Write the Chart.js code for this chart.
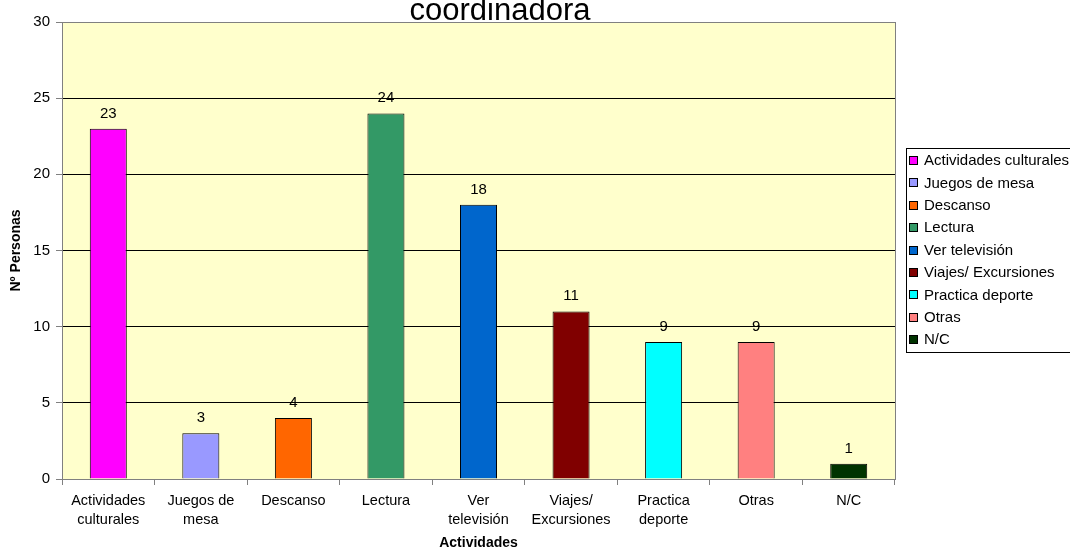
<!DOCTYPE html>
<html lang="es">
<head>
  <meta charset="UTF-8">
  <title>Actividades</title>
  <script src="https://cdn.jsdelivr.net/npm/chart.js"></script>
  <style>
    body { margin: 0; background: #fff; }
    #wrap { width: 1070px; height: 552px; position: relative; }
  </style>
</head>
<body>
  <div id="wrap"><canvas id="grafico" width="1070" height="552"></canvas></div>

  <script>
    // datos
    const categorias = ['Actividades culturales', 'Juegos de mesa', 'Descanso', 'Lectura', 'Ver televisión',
      'Viajes/ Excursiones', 'Practica deporte', 'Otras', 'N/C'];
    const etiquetasEje = [['Actividades', 'culturales'], ['Juegos de', 'mesa'], 'Descanso', 'Lectura',
      ['Ver', 'televisión'], ['Viajes/', 'Excursiones'], ['Practica', 'deporte'], 'Otras', 'N/C'];
    const personas = [23, 3, 4, 24, 18, 11, 9, 9, 1];
    const colores = ['#FF00FF', '#9999FF', '#FF6600', '#339966', '#0066CC', '#800000', '#00FFFF', '#FF8080', '#003300'];

    const FUENTE = 'Liberation Sans, Arial, sans-serif';

    // fondo amarillo y borde gris del área de trazado
    const fondoArea = {
      id: 'fondoArea',
      beforeDraw(chart) {
        const { ctx, chartArea: a } = chart;
        ctx.save();
        ctx.fillStyle = '#FFFFCC';
        ctx.fillRect(a.left, a.top, a.right - a.left, a.bottom - a.top);
        ctx.restore();
      },
      afterDatasetsDraw(chart) {
        const { ctx, chartArea: a } = chart;
        ctx.save();
        ctx.strokeStyle = '#808080';
        ctx.lineWidth = 1;
        ctx.beginPath();
        ctx.moveTo(a.right + 0.5, a.top);
        ctx.lineTo(a.right + 0.5, a.bottom);
        ctx.stroke();
        ctx.restore();
      }
    };

    // valores encima de cada barra
    const valores = {
      id: 'valores',
      afterDatasetsDraw(chart) {
        const { ctx } = chart;
        const meta = chart.getDatasetMeta(0);
        ctx.save();
        ctx.font = '15px ' + FUENTE;
        ctx.fillStyle = '#000';
        ctx.textAlign = 'center';
        ctx.textBaseline = 'alphabetic';
        meta.data.forEach((bar, i) => {
          ctx.fillText(String(personas[i]), bar.x, bar.y - 11);
        });
        ctx.restore();
      }
    };

    // título (cortado arriba) y leyenda con recuadro
    const extras = {
      id: 'extras',
      afterDraw(chart) {
        const { ctx } = chart;
        ctx.save();
        ctx.fillStyle = '#000';
        ctx.font = '31px ' + FUENTE;
        ctx.textAlign = 'center';
        ctx.textBaseline = 'alphabetic';
        ctx.fillText('coordinadora', 500, 20);

        // leyenda
        ctx.fillStyle = '#fff';
        ctx.fillRect(906.5, 148.5, 170, 204);
        ctx.strokeStyle = '#000';
        ctx.lineWidth = 1;
        ctx.strokeRect(906.5, 148.5, 170, 204);
        ctx.font = '15px ' + FUENTE;
        ctx.textAlign = 'left';
        ctx.textBaseline = 'middle';
        categorias.forEach((c, i) => {
          const y = 161 + i * 22.4;
          ctx.fillStyle = colores[i];
          ctx.fillRect(910, Math.round(y) - 4, 7, 7);
          ctx.strokeStyle = '#000';
          ctx.strokeRect(909.5, Math.round(y) - 4.5, 8, 8);
          ctx.fillStyle = '#000';
          ctx.fillText(c, 924, y);
        });
        ctx.restore();
      }
    };

    new Chart(document.getElementById('grafico'), {
      type: 'bar',
      data: {
        labels: etiquetasEje,
        datasets: [{
          data: personas,
          backgroundColor: colores,
          borderColor: '#000',
          borderWidth: 1,
          barPercentage: 0.8,
          categoryPercentage: 0.5
        }]
      },
      options: {
        responsive: false,
        animation: false,
        layout: { padding: { top: 22, right: 175, left: 0, bottom: 0 } },
        plugins: {
          legend: { display: false },
          tooltip: { enabled: false }
        },
        scales: {
          x: {
            grid: {
              offset: true,
              drawOnChartArea: false,
              color: '#808080',
              tickLength: 6
            },
            border: { color: '#808080' },
            ticks: {
              color: '#000',
              font: { family: FUENTE, size: 14.5, lineHeight: 1.28 },
              maxRotation: 0,
              autoSkip: false,
              padding: 7
            },
            title: {
              display: true,
              text: 'Actividades',
              color: '#000',
              font: { family: FUENTE, size: 14, weight: 'bold' },
              padding: { top: 4, bottom: 0 }
            },
            afterFit(scale) { scale.height = 73; }
          },
          y: {
            min: 0,
            max: 30,
            ticks: {
              stepSize: 5,
              color: '#000',
              font: { family: FUENTE, size: 15 },
              padding: 6
            },
            grid: {
              color: ctx => (ctx.tick && (ctx.tick.value === 0 || ctx.tick.value === 30)) ? '#808080' : '#000',
              tickColor: '#808080',
              tickLength: 6
            },
            border: { color: '#808080' },
            title: {
              display: true,
              text: 'Nº Personas',
              color: '#000',
              font: { family: FUENTE, size: 14, weight: 'bold' },
              padding: { top: 8, bottom: 0 }
            },
            afterFit(scale) { scale.width = 62; }
          }
        }
      },
      plugins: [fondoArea, valores, extras]
    });
  </script>
</body>
</html>
